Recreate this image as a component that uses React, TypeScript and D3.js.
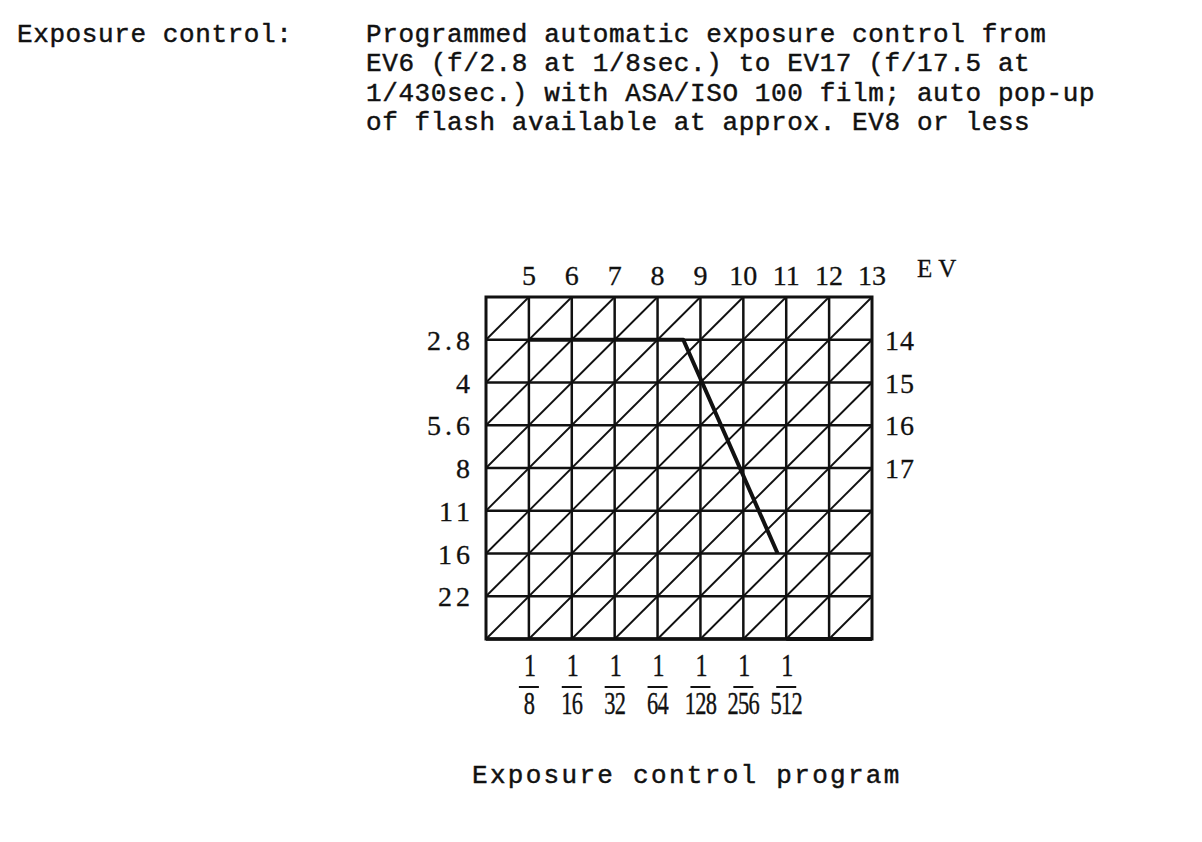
import React from "react";
import * as d3 from "d3";

// ---- data ----
const headerLabel = "Exposure control:";
const headerLines = [
  "Programmed automatic exposure control from",
  "EV6 (f/2.8 at 1/8sec.) to EV17 (f/17.5 at",
  "1/430sec.) with ASA/ISO 100 film; auto pop-up",
  "of flash available at approx. EV8 or less",
];
const caption = "Exposure control program";
const evTopLabels = [5, 6, 7, 8, 9, 10, 11, 12, 13];
const evRightLabels = [14, 15, 16, 17];
const apertureLabels = ["2.8", "4", "5.6", "8", "11", "16", "22"];
const shutterDenoms = ["8", "16", "32", "64", "128", "256", "512"];
// program line, in stops: shutter stop (1 = 1/8 s), aperture stop (1 = f/2.8)
const programShutter = [1, 4.6, 6.8];
const programAperture = [1, 1, 6];
const shutterStops = 9; // columns
const apertureStops = 8; // rows

export default function App() {
  const x = d3.scaleLinear().domain([0, shutterStops]).range([486, 872]);
  const y = d3.scaleLinear().domain([0, apertureStops]).range([297, 639]);
  const serif = "'Liberation Serif', 'DejaVu Serif', serif";
  const mono = "'Liberation Mono', 'DejaVu Sans Mono', monospace";
  const ink = "#111";

  // diagonals: constant EV lines s + a = c
  const diags = d3.range(1, shutterStops + apertureStops).map((c) => {
    const a0 = Math.min(c, apertureStops);
    const s0 = c - a0;
    const s1 = Math.min(c, shutterStops);
    const a1 = c - s1;
    return { s0, a0, s1, a1 };
  });

  const line = d3
    .line<number>()
    .x((_, i) => x(programShutter[i]))
    .y((_, i) => y(programAperture[i]));

  const monoText = { fontFamily: mono, fontSize: 26, letterSpacing: 0.6, fill: ink, stroke: ink, strokeWidth: 0.45 };

  return (
    <svg
      width={1202}
      height={842}
      style={{ position: "absolute", left: 0, top: 0, background: "#fff" }}
    >
      <rect x={0} y={0} width={1202} height={842} fill="#fff" />
      {/* header */}
      <text x={17} y={42} {...monoText}>
        {headerLabel}
      </text>
      {headerLines.map((t, i) => (
        <text key={i} x={366} y={42 + i * 29.4} {...monoText} style={{ whiteSpace: "pre" }}>
          {t}
        </text>
      ))}

      {/* diagonals */}
      {diags.map((d, i) => (
        <line
          key={"d" + i}
          x1={x(d.s0)}
          y1={y(d.a0)}
          x2={x(d.s1)}
          y2={y(d.a1)}
          stroke={ink}
          strokeWidth={1.9}
        />
      ))}
      {/* grid */}
      {d3.range(1, shutterStops).map((s) => (
        <line key={"v" + s} x1={x(s)} x2={x(s)} y1={y(0)} y2={y(apertureStops)} stroke={ink} strokeWidth={2.5} />
      ))}
      {d3.range(1, apertureStops).map((a) => (
        <line key={"h" + a} x1={x(0)} x2={x(shutterStops)} y1={y(a)} y2={y(a)} stroke={ink} strokeWidth={2.5} />
      ))}
      <rect
        x={x(0)}
        y={y(0)}
        width={x(shutterStops) - x(0)}
        height={y(apertureStops) - y(0)}
        fill="none"
        stroke={ink}
        strokeWidth={3}
      />
      <line x1={x(0)} x2={x(shutterStops)} y1={y(apertureStops)} y2={y(apertureStops)} stroke={ink} strokeWidth={3.4} />
      <line x1={x(7)} x2={x(shutterStops)} y1={y(apertureStops)} y2={y(apertureStops)} stroke={ink} strokeWidth={4} />

      {/* program line */}
      <path d={line(programShutter) || ""} fill="none" stroke={ink} strokeWidth={4} strokeLinejoin="round" />

      {/* top EV labels */}
      {evTopLabels.map((ev, i) => (
        <text key={"t" + ev} x={x(i + 1)} y={285} textAnchor="middle" fontFamily={serif} fontSize={28} fill={ink} stroke={ink} strokeWidth={0.3}>
          {ev}
        </text>
      ))}
      <text x={917} y={277} fontFamily={serif} fontSize={25} letterSpacing={6} fill={ink} stroke={ink} strokeWidth={0.3}>
        EV
      </text>

      {/* left aperture labels */}
      {apertureLabels.map((a, i) => (
        <text
          key={"a" + a}
          x={474}
          y={y(i + 1) + 10}
          textAnchor="end"
          fontFamily={serif}
          fontSize={28}
          letterSpacing={4}
          fill={ink}
          stroke={ink}
          strokeWidth={0.3}
        >
          {a}
        </text>
      ))}

      {/* right EV labels */}
      {evRightLabels.map((ev, i) => (
        <text key={"r" + ev} x={885} y={y(i + 1) + 10} fontFamily={serif} fontSize={28} letterSpacing={1} fill={ink} stroke={ink} strokeWidth={0.3}>
          {ev}
        </text>
      ))}

      {/* bottom shutter labels */}
      {shutterDenoms.map((dn, i) => (
        <g key={"s" + dn}>
          <text
            transform={`translate(${x(i + 1) + 1},676) scale(0.75,1)`}
            textAnchor="middle"
            fontFamily={serif}
            fontSize={32}
            fill={ink}
            stroke={ink}
            strokeWidth={0.4}
          >
            1
          </text>
          <line x1={x(i + 1) - 10} x2={x(i + 1) + 10} y1={687} y2={687} stroke={ink} strokeWidth={2} />
          <text
            transform={`translate(${x(i + 1)},714) scale(0.7,1)`}
            textAnchor="middle"
            fontFamily={serif}
            fontSize={32}
            letterSpacing={-1}
            fill={ink}
            stroke={ink}
            strokeWidth={0.4}
          >
            {dn}
          </text>
        </g>
      ))}

      {/* caption */}
      <text x={472} y={783} {...monoText} letterSpacing={2.3}>
        {caption}
      </text>
    </svg>
  );
}
